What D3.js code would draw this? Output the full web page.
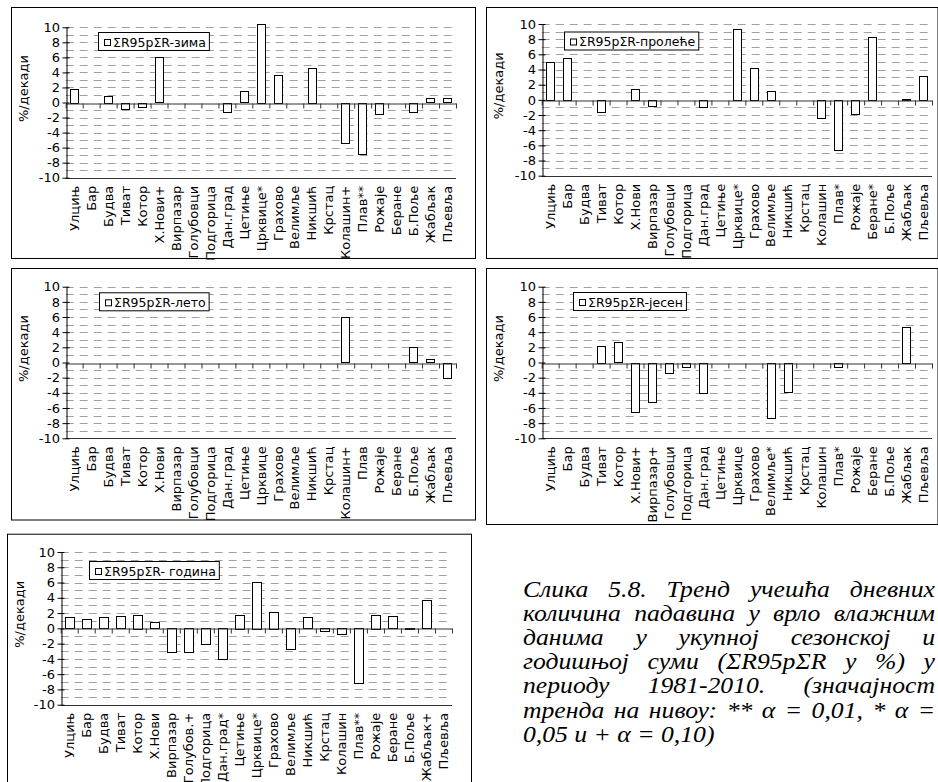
<!DOCTYPE html>
<html><head><meta charset="utf-8">
<script src="https://cdn.jsdelivr.net/npm/d3@7/dist/d3.min.js"></script>
<style>body{margin:0;background:#fff}svg{display:block}</style>
</head><body>
<svg id="c" width="938" height="782"></svg>
<script>
// ---------- data ----------
const winterLabels = ["Улцињ","Бар","Будва","Тиват","Котор","Х.Нови+","Вирпазар","Голубовци","Подгорица","Дан.град","Цетиње","Црквице*","Грахово","Велимље","Никшић","Крстац","Колашин+","Плав**","Рожаје","Беране","Б.Поље","Жабљак","Пљевља"];
const winterValues = [1.8,0,0.9,-0.85,-0.55,6.0,0,0,0,-1.2,1.5,10.5,3.7,0,4.6,0,-5.3,-6.8,-1.5,0,-1.2,0.55,0.55];

const springLabels = ["Улцињ","Бар","Будва","Тиват","Котор","Х.Нови","Вирпазар","Голубовци","Подгорица","Дан.град","Цетиње","Црквице*","Грахово","Велимље","Никшић","Крстац","Колашин","Плав*","Рожаје","Беране*","Б.Поље","Жабљак","Пљевља"];
const springValues = [5.0,5.5,0,-1.6,0,1.4,-0.8,0,0,-0.9,0,9.3,4.2,1.2,0,0,-2.4,-6.6,-1.8,8.3,0,0.15,3.2];

const summerLabels = ["Улцињ","Бар","Будва","Тиват","Котор","Х.Нови","Вирпазар","Голубовци","Подгорица","Дан.град","Цетиње","Црквице","Грахово","Велимље","Никшић","Крстац","Колашин+","Плав","Рожаје","Беране","Б.Поље","Жабљак","Пљевља"];
const summerValues = [0,0,0,0,0,0,0,0,0,0,0,0,0,0,0,0,6.0,0,0,0,2.0,0.4,-2.0];

const autumnLabels = ["Улцињ","Бар","Будва","Тиват","Котор","Х.Нови+","Вирпазар+","Голубовци","Подгорица","Дан.град","Цетиње","Црквице","Грахово","Велимље*","Никшић","Крстац","Колашин","Плав*","Рожаје","Беране","Б.Поље","Жабљак","Пљевља"];
const autumnValues = [0,0,0,2.2,2.7,-6.4,-5.1,-1.3,-0.5,-4.0,0,0,0,-7.3,-3.8,0,0,-0.5,0,0,0,4.7,0];

const yearLabels = ["Улцињ","Бар","Будва","Тиват","Котор","Х.Нови","Вирпазар","Голубов.+","Подгорица","Дан.град*","Цетиње","Црквице*","Грахово","Велимље","Никшић","Крстац","Колашин","Плав**","Рожаје","Беране","Б.Поље","Жабљак+","Пљевља"];
const yearValues = [1.5,1.2,1.5,1.6,1.8,0.8,-3.2,-3.2,-2.1,-4.1,1.8,6.1,2.2,-2.8,1.5,-0.35,-0.8,-7.2,1.8,1.6,0.1,3.7,0];

const seriesNames = ["ΣR95pΣR-зима","ΣR95pΣR-пролеће","ΣR95pΣR-лето","ΣR95pΣR-јесен","ΣR95pΣR- година"];
const yTickValues = [10,8,6,4,2,0,-2,-4,-6,-8,-10];
const yAxisTitle = "%/декади";
const captionLines = [
  "Слика 5.8. Тренд учешћа дневних",
  "количина падавина у врло влажним",
  "данима у укупној сезонској и",
  "годишњој суми (ΣR95pΣR у %) у",
  "периоду 1981-2010. (значајност",
  "тренда на нивоу: ** α = 0,01, * α =",
  "0,05 и + α = 0,10)"
];

// ---------- layout ----------
const layout = [
  {frame:[11,7,464,251],   plot:[65.7,27.3,456,177.7], leg:[98,32]},
  {frame:[486,7,451.5,251],plot:[541.7,24,932,175.7],  leg:[564,31.5]},
  {frame:[11,268,464,251.5],plot:[65.7,286.7,456,438.3], leg:[99,292.3]},
  {frame:[486,268,451.5,256],plot:[541.7,286.7,932,438.3], leg:[573,292]},
  {frame:[7,533.7,464,260],plot:[60.7,552,452,704.7], leg:[89,561]}
];
const panelData = [
  [winterLabels, winterValues],
  [springLabels, springValues],
  [summerLabels, summerValues],
  [autumnLabels, autumnValues],
  [yearLabels, yearValues]
];

const FONT = "'DejaVu Sans', Verdana, sans-serif";
const svg = d3.select("#c");

panelData.forEach(([labels, values], pi) => {
  const L = layout[pi];
  const [fx, fy, fw, fh] = L.frame;
  const [pl, pt, pr, pb] = L.plot;
  const n = labels.length;
  const g = svg.append("g");

  g.append("rect").attr("x", fx + 0.5).attr("y", fy + 0.5).attr("width", fw).attr("height", fh)
    .attr("fill", "#fff").attr("stroke", "#000").attr("stroke-width", 1);

  const x = d3.scaleBand().domain(d3.range(n)).range([pl, pr]).paddingInner(0.5).paddingOuter(0.25);
  const xb = d3.scaleLinear().domain([0, n]).range([pl, pr]);
  const y = d3.scaleLinear().domain([-10, 10]).range([pb, pt]);

  // dashed gridlines
  g.append("g").selectAll("line").data(d3.range(-9, 11).filter(v => v !== 0)).join("line")
    .attr("x1", pl).attr("x2", pr)
    .attr("y1", d => Math.round(y(d)) + 0.5).attr("y2", d => Math.round(y(d)) + 0.5)
    .attr("stroke", "#a0a0a0").attr("stroke-width", 1).attr("stroke-dasharray", "8,6");
  // bottom line
  g.append("line").attr("x1", pl).attr("x2", pr)
    .attr("y1", Math.round(y(-10)) + 0.5).attr("y2", Math.round(y(-10)) + 0.5)
    .attr("stroke", "#333").attr("stroke-width", 1);

  // bars
  g.append("g").selectAll("rect").data(values.map((v, i) => ({v, i})).filter(d => d.v !== 0)).join("rect")
    .attr("x", d => Math.round(x(d.i)) + 0.5)
    .attr("width", Math.round(x.bandwidth()))
    .attr("y", d => Math.round(y(Math.max(0, d.v))) + 0.5)
    .attr("height", d => Math.max(1, Math.round(Math.abs(y(d.v) - y(0)))))
    .attr("fill", "#fff").attr("stroke", "#000").attr("stroke-width", 1);

  // zero axis with ticks at category boundaries
  const xAxis = g.append("g").attr("transform", `translate(0,${Math.round(y(0)) + 0.5})`)
    .call(d3.axisBottom(xb).tickValues(d3.range(n + 1)).tickSize(5).tickSizeOuter(0).tickFormat(""));
  xAxis.select(".domain").attr("stroke", "#333");
  xAxis.selectAll(".tick line").attr("stroke", "#333");

  // category labels
  const lab = g.append("g").attr("transform", `translate(0,${pb})`)
    .call(d3.axisBottom(x).tickSize(0).tickFormat(i => labels[i]));
  lab.select(".domain").remove();
  lab.selectAll("text").attr("transform", "rotate(-90)").attr("x", -8).attr("y", 0).attr("dy", "0.36em")
    .attr("text-anchor", "end").attr("font-family", FONT).attr("font-size", 13).attr("fill", "#000");

  // y axis
  const yAxis = g.append("g").attr("transform", `translate(${Math.round(pl) + 0.5},0)`)
    .call(d3.axisLeft(y).tickValues(yTickValues).tickSize(4).tickSizeOuter(0).tickPadding(2.5).tickFormat(d => String(d)));
  yAxis.select(".domain").attr("stroke", "#000");
  yAxis.selectAll(".tick line").attr("x1", 3).attr("stroke", "#000");
  yAxis.selectAll(".tick text").attr("font-family", FONT).attr("font-size", 13).attr("fill", "#000");

  // y axis title
  g.append("text").attr("transform", `translate(${fx + 12},${(pt + pb) / 2 - 14}) rotate(-90)`)
    .attr("text-anchor", "middle").attr("dy", "0.36em").attr("font-family", FONT).attr("font-size", 13).attr("fill", "#000")
    .text(yAxisTitle);

  // legend
  const [lx, ly] = L.leg;
  const lg = g.append("g");
  const box = lg.append("rect").attr("y", ly + 0.5).attr("x", lx + 0.5).attr("height", 18)
    .attr("fill", "#fff").attr("stroke", "#000");
  lg.append("rect").attr("x", lx + 6.5).attr("y", ly + 7.5).attr("width", 6).attr("height", 6)
    .attr("fill", "#fff").attr("stroke", "#000");
  const t = lg.append("text").attr("x", lx + 15).attr("y", ly + 14.5)
    .attr("font-family", FONT).attr("font-size", 12.5).attr("fill", "#000").text(seriesNames[pi]);
  box.attr("width", 15 + t.node().getComputedTextLength() + 3);
});

// caption (justified, slightly wide glyphs like the reference)
const capLeft = 523, capRight = 935, capBase = 596.5, capStep = 24.2, capSX = 1.07;
const cap = svg.append("g").attr("font-family", "'Liberation Serif','Times New Roman',serif")
  .attr("font-style", "italic").attr("font-size", 24).attr("fill", "#000");
captionLines.forEach((line, i) => {
  const t = cap.append("text").attr("transform", `translate(${capLeft},${capBase + i * capStep}) scale(${capSX},1)`).text(line);
  if (i < captionLines.length - 1) {
    const spaces = (line.match(/ /g) || []).length;
    const w = t.node().getComputedTextLength();
    if (spaces > 0) t.attr("word-spacing", ((capRight - capLeft) / capSX - w) / spaces);
  }
});
</script>
</body></html>
